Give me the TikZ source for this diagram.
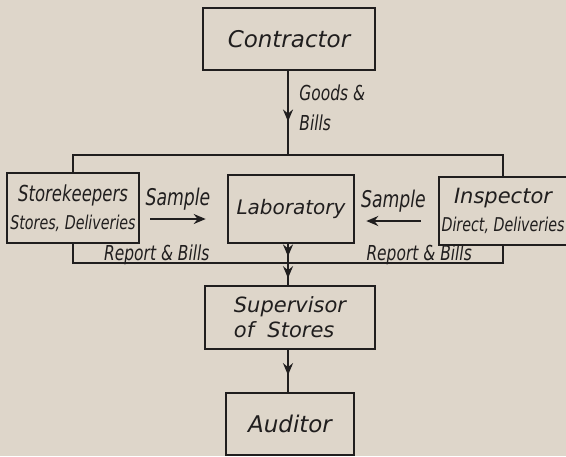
\documentclass[tikz,border=0pt]{standalone}
\usepackage{fontspec}
\setmainfont{DejaVu Sans}
\newfontfamily\narrowfont{DejaVu Sans}[FakeStretch=0.75]
\definecolor{paper}{RGB}{222, 214, 202}
\definecolor{ink}{RGB}{32, 30, 30}
\usetikzlibrary{arrows.meta, calc, decorations.markings}
\tikzset{
    flowbox/.style={
        rectangle,
        draw=ink,
        fill=paper,
        line width=1.3pt,
        inner sep=0pt,
        align=center,
        text=ink
    },
    loopline/.style={draw=ink, color=ink, line width=1.3pt},
    midarrow/.style={
        loopline,
        decoration={markings, mark=at position #1 with {\arrow{Stealth[length=6pt, width=5pt, inset=2pt]}}},
        postaction={decorate}
    },
    arrowstyle/.style={-{Stealth[length=6pt, width=5pt, inset=2pt]}, draw=ink, line width=1.1pt},
    flowlabel/.style={text=ink, inner sep=1pt, font=\narrowfont\itshape\fontsize{10.3}{15}\selectfont}
}

\begin{document}
\begin{tikzpicture}[x=0.5pt, y=-0.5pt]
          \fill[paper] (0,0) rectangle (566,456);
          \useasboundingbox (0,0) rectangle (566,456);
          
          \coordinate (tl) at (73,155);
          \coordinate (tr) at (503,155);
          \coordinate (bl) at (73,263);
          \coordinate (br) at (503,263);
          \coordinate (top) at (288,155);
          \coordinate (bot) at (288,263);
          \draw[loopline] (bl) -- (tl) -- (tr) -- (br) -- cycle;
          
          \node[flowbox, minimum width=86pt, minimum height=31pt, font=\itshape\fontsize{11.5}{14}\selectfont] (contractor) at (289,39) {Contractor};
          \node[flowbox, minimum width=66pt, minimum height=35pt, font=\narrowfont\itshape\fontsize{11}{14}\selectfont] (store) at (73,208) {Storekeepers\\ \fontsize{9.5}{14}\selectfont Stores, Deliveries};
          \node[flowbox, minimum width=63pt, minimum height=34pt, font=\itshape\fontsize{10}{14}\selectfont] (lab) at (291,209) {Laboratory};
          \node[flowbox, minimum width=64pt, minimum height=34pt, font=\itshape\fontsize{10.5}{14}\selectfont] (insp) at (503,211) {Inspector\\ \narrowfont\fontsize{9.5}{14}\selectfont Direct, Deliveries};
          \node[flowbox, minimum width=85pt, minimum height=31.5pt, align=left, font=\itshape\fontsize{10.5}{12.5}\selectfont] (super) at (290,317.5) {Supervisor\\of~ Stores};
          \node[flowbox, minimum width=64pt, minimum height=31pt, font=\itshape\fontsize{11.5}{14}\selectfont] (auditor) at (290,424) {Auditor};
          
          \draw[midarrow=0.6] (contractor.south -| top) -- (top);
          \draw[midarrow=0.65] (lab.south -| bot) -- (bot);
          \draw[midarrow=0.7] (bot) -- (super.north -| bot);
          \draw[midarrow=0.6] (super.south -| bot) -- (auditor.north -| bot);
          
          \node[flowlabel, align=left, anchor=west] (goods) at (297,108) {Goods \&\\Bills};
          
          \draw[arrowstyle] ($(store.east)+(10,11)$) -- ($(store.east -| lab.west)+(-21,11)$)
              node[midway, above=3pt, flowlabel, font=\narrowfont\itshape\fontsize{11.5}{14}\selectfont] (samplel) {Sample};
          \draw[arrowstyle] ($(insp.west)+(-17,10)$) -- ($(insp.west -| lab.east)+(11,10)$)
              node[midway, above=3pt, flowlabel, font=\narrowfont\itshape\fontsize{11.5}{14}\selectfont] (sampler) {Sample};
          
          \path (bl) -- (bot) node[pos=0.39, anchor=base, yshift=1.5pt, flowlabel] (reportl) {Report \& Bills};
          \path (bot) -- (br) node[pos=0.61, anchor=base, yshift=1.5pt, flowlabel] (reportr) {Report \& Bills};
        \end{tikzpicture}
\end{document}
